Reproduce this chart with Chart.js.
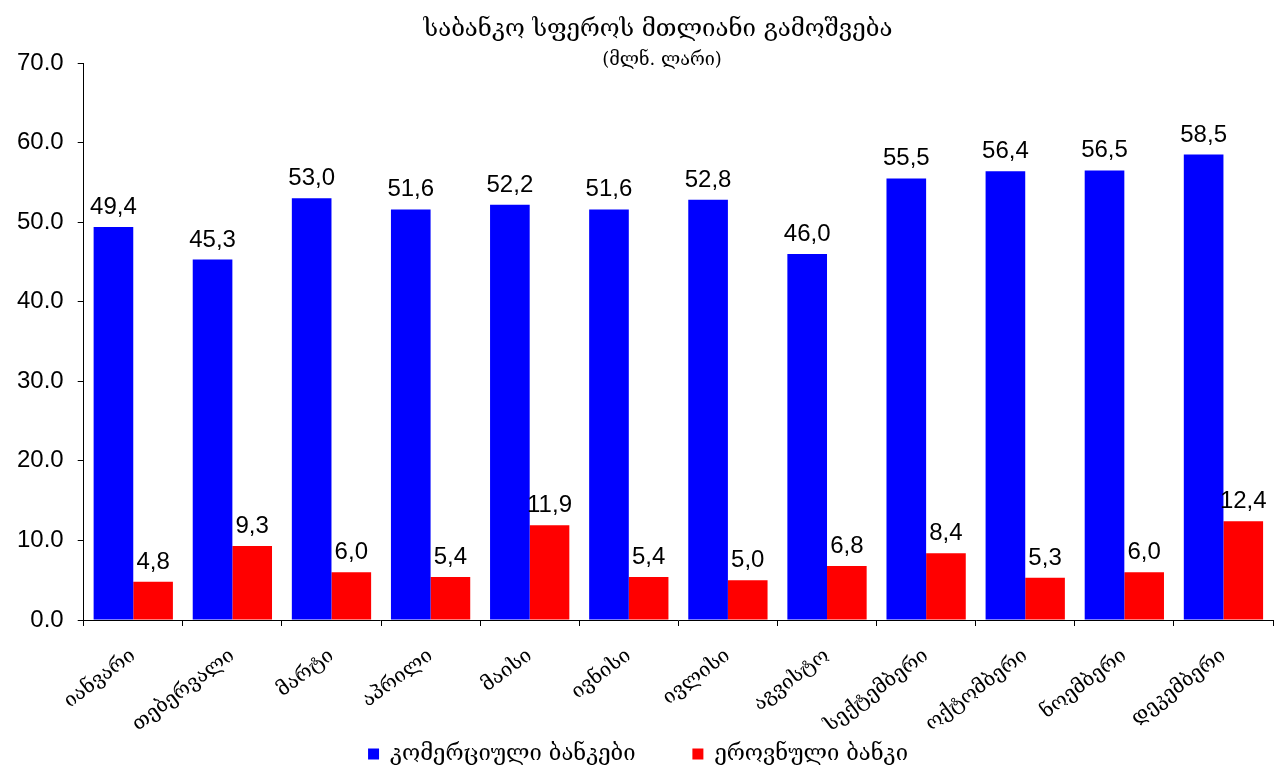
<!DOCTYPE html>
<html>
<head>
<meta charset="utf-8">
<script src="https://cdn.jsdelivr.net/npm/chart.js@4"></script>
<style>
  html, body { margin: 0; padding: 0; background: #fff; }
  #wrap { position: relative; width: 1278px; height: 775px; }
</style>
</head>
<body>
<div id="wrap"><canvas id="outputChart"></canvas></div>
<script>
// chart data
const months = ['იანვარი', 'თებერვალი', 'მარტი', 'აპრილი', 'მაისი', 'ივნისი',
  'ივლისი', 'აგვისტო', 'სექტემბერი', 'ოქტომბერი', 'ნოემბერი', 'დეკემბერი'];
const commercialBanks = [49.4, 45.3, 53.0, 51.6, 52.2, 51.6, 52.8, 46.0, 55.5, 56.4, 56.5, 58.5];
const nationalBank = [4.8, 9.3, 6.0, 5.4, 11.9, 5.4, 5.0, 6.8, 8.4, 5.3, 6.0, 12.4];
const seriesNames = ['კომერციული ბანკები', 'ეროვნული ბანკი'];
const titleLines = ['საბანკო სფეროს მთლიანი გამოშვება', '(მლნ. ლარი)'];
const yTicks = [0, 10, 20, 30, 40, 50, 60, 70];

const geoFont = '"DejaVu Serif", "DejaVu Sans", serif';
const numFont = '"Liberation Sans", Arial, sans-serif';

// title drawn on top of the canvas, it does not take room from the plot
const titlePlugin = {
  id: 'topTitle',
  afterDraw(chart) {
    const ctx = chart.ctx;
    ctx.save();
    ctx.fillStyle = '#000';
    ctx.textAlign = 'center';
    ctx.textBaseline = 'middle';
    ctx.font = '24px ' + geoFont;
    ctx.fillText(titleLines[0], 658, 30);
    ctx.font = '18px ' + geoFont;
    ctx.fillText(titleLines[1], 662, 60);
    ctx.restore();
  }
};

// value labels above each bar, comma as decimal sign
const valueLabels = {
  id: 'valueLabels',
  afterDatasetsDraw(chart) {
    const ctx = chart.ctx;
    ctx.save();
    ctx.fillStyle = '#000';
    ctx.textAlign = 'center';
    ctx.textBaseline = 'alphabetic';
    ctx.font = '24px ' + numFont;
    chart.data.datasets.forEach((ds, i) => {
      chart.getDatasetMeta(i).data.forEach((bar, j) => {
        const txt = ds.data[j].toFixed(1).replace('.', ',');
        ctx.fillText(txt, bar.x, bar.y - 13);
      });
    });
    ctx.restore();
  }
};

const ctx = document.getElementById('outputChart').getContext('2d');
const outputChart = new Chart(ctx, {
  type: 'bar',
  data: {
    labels: months,
    datasets: [
      {
        label: seriesNames[0],
        data: commercialBanks,
        backgroundColor: '#0000ff',
        categoryPercentage: 0.8,
        barPercentage: 1.0,
      },
      {
        label: seriesNames[1],
        data: nationalBank,
        backgroundColor: '#ff0000',
        categoryPercentage: 0.8,
        barPercentage: 1.0,
      },
    ],
  },
  options: {
    responsive: true,
    maintainAspectRatio: false,
    animation: false,
    layout: {
      padding: { top: 63, left: 3, right: 5, bottom: 0 },
    },
    plugins: {
      legend: {
        position: 'bottom',
        labels: {
          boxWidth: 11,
          boxHeight: 11,
          padding: 8,
          color: '#000',
          font: { family: geoFont, size: 22 },
          // wider gap between the two entries
          generateLabels: (chart) => {
            const items = Chart.defaults.plugins.legend.labels.generateLabels(chart);
            items[0].text += '       ';
            return items;
          },
        },
      },
      tooltip: { enabled: false },
    },
    scales: {
      x: {
        afterFit: (axis) => {
          axis.height = 115;
          axis.paddingLeft = 0;
          axis.paddingRight = 0;
        },
        grid: {
          display: true,
          drawOnChartArea: false,
          drawTicks: true,
          tickLength: 6,
          color: '#000',
        },
        border: { display: true, color: '#000', width: 1 },
        ticks: {
          autoSkip: false,
          maxRotation: 37,
          minRotation: 37,
          color: '#000',
          padding: 18,
          font: { family: geoFont, size: 20 },
        },
      },
      y: {
        min: 0,
        max: 70,
        afterBuildTicks: (axis) => {
          axis.ticks = yTicks.map(v => ({ value: v }));
        },
        grid: {
          display: true,
          drawOnChartArea: false,
          drawTicks: true,
          tickLength: 6,
          color: '#000',
        },
        border: { display: true, color: '#000', width: 1 },
        ticks: {
          color: '#000',
          padding: 14,
          font: { family: numFont, size: 24 },
          callback: (v) => Number(v).toFixed(1),
        },
      },
    },
  },
  plugins: [titlePlugin, valueLabels],
});
</script>
</body>
</html>
